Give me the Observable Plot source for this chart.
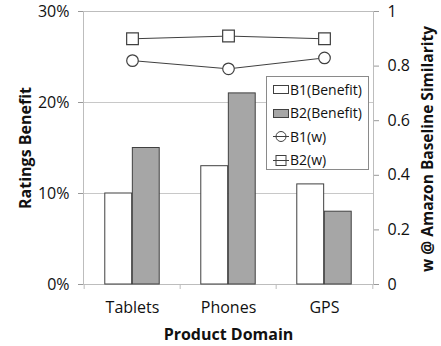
<!DOCTYPE html>
<html>
<head>
<meta charset="utf-8">
<script src="https://cdn.jsdelivr.net/npm/d3@7"></script>
<script src="https://cdn.jsdelivr.net/npm/@observablehq/plot@0.6"></script>
<style>
  body { margin: 0; background: #fff; }
  #wrap { position: relative; width: 441px; height: 346px; font-family: "Open Sans", sans-serif; }
  #legend { position: absolute; left: 266px; top: 76px; width: 101px; height: 92px; border: 1px solid #8a8a8a; background: #fff; font-size: 14px; color: #111; }
  #legend .row { position: absolute; left: 0; height: 20px; display: flex; align-items: center; }
  #legend svg { display: block; margin-left: 6px; margin-right: 1px; }
</style>
</head>
<body>
<div id="wrap"></div>
<script>
const categories = ["Tablets", "Phones", "GPS"];
const b1Benefit = [0.10, 0.13, 0.11];
const b2Benefit = [0.15, 0.21, 0.08];
const b1W = [0.82, 0.79, 0.83];
const b2W = [0.90, 0.91, 0.90];
const leftTicks = [0, 0.1, 0.2, 0.3];
const rightTicks = [0, 0.2, 0.4, 0.6, 0.8, 1];
const seriesNames = ["B1(Benefit)", "B2(Benefit)", "B1(w)", "B2(w)"];

const wMax = 0.3; // right axis 1 maps to left 30%
const bars1 = categories.map((c, i) => ({cat: c, v: b1Benefit[i]}));
const bars2 = categories.map((c, i) => ({cat: c, v: b2Benefit[i]}));
const lineData = [
  ...categories.map((c, i) => ({cat: c, w: b1W[i], s: "B1(w)"})),
  ...categories.map((c, i) => ({cat: c, w: b2W[i], s: "B2(w)"}))
];
const dark = "#404040";

const W = 441, H = 346, mL = 83, mR = 68, mT = 11, mB = 62;
const bw = (W - mL - mR) / categories.length;

const chart = Plot.plot({
  width: W, height: H,
  marginLeft: mL, marginRight: mR, marginTop: mT, marginBottom: mB,
  style: {fontFamily: "Open Sans", fontSize: "16px", color: "#111", background: "#fff"},
  x: {domain: categories, padding: 0},
  y: {domain: [0, 0.3]},
  marks: [
    Plot.gridY(leftTicks, {stroke: "#c8c8c8", strokeOpacity: 1}),
    Plot.frame({stroke: "#bdbdbd"}),
    Plot.ruleX(categories, {x: d => d, dx: -bw / 2, insetTop: H - mT - mB, insetBottom: -5, stroke: "#bdbdbd"}),
    Plot.ruleX(categories.slice(-1), {x: d => d, dx: bw / 2, insetTop: H - mT - mB, insetBottom: -5, stroke: "#bdbdbd"}),
    Plot.barY(bars1, {x: "cat", y: "v", fill: "#fff", stroke: dark, strokeWidth: 1, insetLeft: bw * 0.215, insetRight: bw * 0.5}),
    Plot.barY(bars2, {x: "cat", y: "v", fill: "#a6a6a6", stroke: dark, strokeWidth: 1, insetLeft: bw * 0.5, insetRight: bw * 0.215}),
    Plot.line(lineData, {x: "cat", y: d => d.w * wMax, z: "s", stroke: dark, strokeWidth: 1}),
    Plot.dot(lineData.filter(d => d.s === "B1(w)"), {x: "cat", y: d => d.w * wMax, r: 5.8, symbol: "circle", fill: "#fff", stroke: dark, strokeWidth: 1.2}),
    Plot.dot(lineData.filter(d => d.s === "B2(w)"), {x: "cat", y: d => d.w * wMax, r: 6.6, symbol: "square", fill: "#fff", stroke: dark, strokeWidth: 1.2}),
    Plot.axisY(leftTicks, {anchor: "left", tickFormat: d3.format(".0%"), tickSize: 5, tickPadding: 9, stroke: "#999", label: null}),
    Plot.axisY(rightTicks.map(t => t * wMax), {anchor: "right", tickFormat: d => String(Math.round(d / wMax * 10) / 10), tickSize: 5, tickPadding: 9, stroke: "#999", label: null}),
    Plot.axisX({tickSize: 0, tickPadding: 17, label: null}),
    Plot.text(["Product Domain"], {frameAnchor: "bottom", textAnchor: "middle", dy: 55, fontWeight: "bold", fontSize: 16, fill: "#111"}),
    Plot.text(["Ratings Benefit"], {frameAnchor: "left", textAnchor: "middle", dx: -58, rotate: -90, fontWeight: "bold", fontSize: 16, fill: "#111"}),
    Plot.text(["w @ Amazon Baseline Similarity"], {frameAnchor: "right", textAnchor: "middle", dx: 55, dy: 1, rotate: -90, fontWeight: "bold", fontSize: 15.5, fill: "#111"})
  ]
});

const wrap = document.getElementById("wrap");
wrap.appendChild(chart);

// legend
const legend = document.createElement("div");
legend.id = "legend";
const swatches = [
  `<svg width="16" height="12"><rect x="0.5" y="2.5" width="15" height="8" fill="#fff" stroke="${dark}"/></svg>`,
  `<svg width="16" height="12"><rect x="0.5" y="2.5" width="15" height="8" fill="#a6a6a6" stroke="${dark}"/></svg>`,
  `<svg width="16" height="12"><line x1="0" x2="16" y1="6.5" y2="6.5" stroke="${dark}"/><circle cx="8" cy="6.5" r="5" fill="none" stroke="${dark}"/></svg>`,
  `<svg width="16" height="12"><line x1="0" x2="16" y1="6.5" y2="6.5" stroke="${dark}"/><rect x="3" y="1.5" width="10" height="10" fill="none" stroke="${dark}"/></svg>`
];
seriesNames.forEach((name, i) => {
  const row = document.createElement("div");
  row.className = "row";
  row.style.top = (2 + i * 23.5) + "px";
  row.innerHTML = swatches[i] + `<span>${name}</span>`;
  legend.appendChild(row);
});
wrap.appendChild(legend);
</script>
</body>
</html>
